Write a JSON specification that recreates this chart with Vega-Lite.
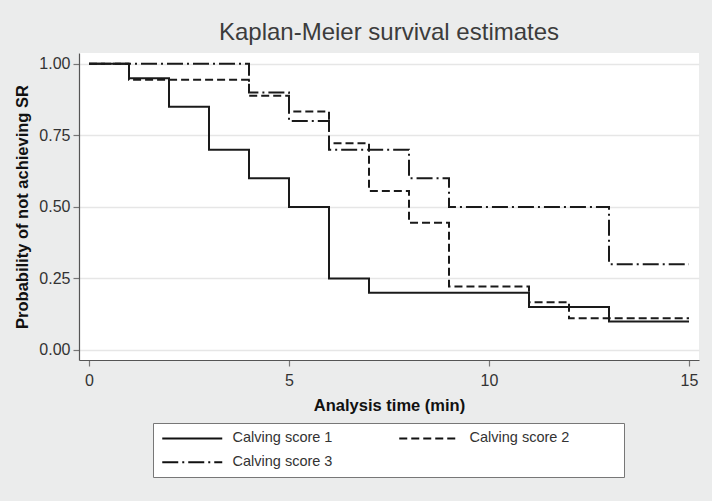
{
  "$schema": "https://vega.github.io/schema/vega-lite/v6.json",
  "width": 620,
  "height": 307,
  "autosize": {"type": "none"},
  "padding": {"left": 79, "top": 53, "right": 13, "bottom": 141},
  "background": "#ebecec",
  "title": {"text": "Kaplan-Meier survival estimates", "font": "Liberation Sans", "fontSize": 24, "fontWeight": "normal", "color": "#3c3c3c", "anchor": "middle", "offset": 8},
  "data": {"values": [
    {"score": "Calving score 1", "t": 0, "s": 1},
    {"score": "Calving score 1", "t": 1, "s": 0.95},
    {"score": "Calving score 1", "t": 2, "s": 0.85},
    {"score": "Calving score 1", "t": 3, "s": 0.70},
    {"score": "Calving score 1", "t": 4, "s": 0.60},
    {"score": "Calving score 1", "t": 5, "s": 0.50},
    {"score": "Calving score 1", "t": 6, "s": 0.25},
    {"score": "Calving score 1", "t": 7, "s": 0.20},
    {"score": "Calving score 1", "t": 11, "s": 0.15},
    {"score": "Calving score 1", "t": 13, "s": 0.10},
    {"score": "Calving score 1", "t": 15, "s": 0.10},
    {"score": "Calving score 2", "t": 0, "s": 1},
    {"score": "Calving score 2", "t": 1, "s": 0.9444},
    {"score": "Calving score 2", "t": 4, "s": 0.8889},
    {"score": "Calving score 2", "t": 5, "s": 0.8333},
    {"score": "Calving score 2", "t": 6, "s": 0.7222},
    {"score": "Calving score 2", "t": 7, "s": 0.5556},
    {"score": "Calving score 2", "t": 8, "s": 0.4444},
    {"score": "Calving score 2", "t": 9, "s": 0.2222},
    {"score": "Calving score 2", "t": 11, "s": 0.1667},
    {"score": "Calving score 2", "t": 12, "s": 0.1111},
    {"score": "Calving score 2", "t": 15, "s": 0.1111},
    {"score": "Calving score 3", "t": 0, "s": 1},
    {"score": "Calving score 3", "t": 4, "s": 0.9},
    {"score": "Calving score 3", "t": 5, "s": 0.8},
    {"score": "Calving score 3", "t": 6, "s": 0.7},
    {"score": "Calving score 3", "t": 8, "s": 0.6},
    {"score": "Calving score 3", "t": 9, "s": 0.5},
    {"score": "Calving score 3", "t": 13, "s": 0.3},
    {"score": "Calving score 3", "t": 15, "s": 0.3}
  ]},
  "mark": {"type": "line", "interpolate": "step-after", "strokeWidth": 2, "color": "#1a1a1a", "clip": true},
  "encoding": {
    "x": {
      "field": "t", "type": "quantitative",
      "scale": {"domain": [-0.25, 15.25], "nice": false, "zero": false},
      "axis": {"values": [0, 5, 10, 15], "grid": false, "title": "Analysis time (min)", "format": "d"}
    },
    "y": {
      "field": "s", "type": "quantitative",
      "scale": {"domain": [-0.035, 1.038], "nice": false, "zero": false},
      "axis": {"values": [0, 0.25, 0.5, 0.75, 1], "format": ".2f", "grid": true, "title": "Probability of not achieving SR"}
    },
    "strokeDash": {
      "field": "score", "type": "nominal",
      "scale": {"domain": ["Calving score 1", "Calving score 2", "Calving score 3"], "range": [[1, 0], [8, 4], [16, 4, 2, 4]]},
      "legend": {
        "title": null, "orient": "none", "legendX": 74, "legendY": 370,
        "columns": 2, "direction": "horizontal",
        "symbolType": "M-1,0H9M34.3,0", "symbolSize": 144, "symbolStrokeWidth": 2, "symbolStrokeColor": "#111",
        "labelFont": "Liberation Sans", "labelFontSize": 14.5, "labelColor": "#333", "labelOffset": 57, "labelLimit": 400,
        "columnPadding": 16, "rowPadding": 9, "padding": 8,
        "fillColor": "#ffffff", "strokeColor": "#777", "cornerRadius": 0
      }
    }
  },
  "config": {
    "view": {"fill": "#ffffff", "stroke": null},
    "axis": {
      "labelFont": "Liberation Sans", "labelFontSize": 16, "labelColor": "#333",
      "titleFont": "Liberation Sans", "titleFontSize": 16.5, "titleFontWeight": "bold", "titleColor": "#111",
      "domainColor": "#555", "domainWidth": 1.2, "tickColor": "#777", "tickSize": 6, "tickWidth": 1.2,
      "gridColor": "#e6e6e6", "gridWidth": 1.5
    },
    "axisX": {"labelPadding": 6, "titlePadding": 9},
    "axisY": {"labelPadding": 3, "titlePadding": 8}
  }
}
